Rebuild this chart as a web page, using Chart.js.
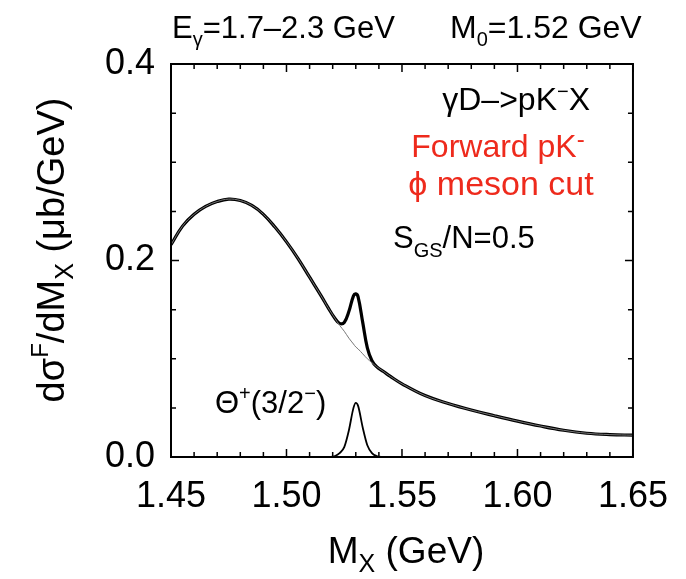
<!DOCTYPE html>
<html>
<head>
<meta charset="utf-8">
<script src="https://cdn.jsdelivr.net/npm/chart.js@4.4.0/dist/chart.umd.min.js"></script>
<style>
  html, body { margin: 0; padding: 0; background: #fff; }
  #wrap { width: 686px; height: 579px; }
</style>
</head>
<body>
<div id="wrap"><canvas id="chart" width="686" height="579"></canvas></div>
<script>
// M_X grid (GeV) for background and total curves
const massX = [1.45, 1.455, 1.46, 1.465, 1.47, 1.475, 1.48, 1.485, 1.49, 1.495, 1.50, 1.505, 1.51, 1.515,
  1.518, 1.521, 1.523, 1.525, 1.527, 1.529, 1.530, 1.531, 1.533, 1.535, 1.537, 1.539, 1.542,
  1.545, 1.55, 1.56, 1.57, 1.58, 1.59, 1.60, 1.61, 1.62, 1.63, 1.64, 1.65];
// background only (thin line)
const background = [0.216, 0.235, 0.247, 0.255, 0.260, 0.2625, 0.261, 0.256, 0.247, 0.234, 0.219, 0.202, 0.183, 0.164,
  0.152, 0.141, 0.134, 0.128, 0.121, 0.115, 0.112, 0.110, 0.105, 0.100, 0.096, 0.092, 0.087,
  0.082, 0.0745, 0.0625, 0.0545, 0.0478, 0.0420, 0.0365, 0.0315, 0.0272, 0.0242, 0.0228, 0.0222];
// background + Theta signal (thick line)
const total = [0.216, 0.235, 0.247, 0.255, 0.260, 0.2625, 0.261, 0.256, 0.247, 0.234, 0.219, 0.202, 0.183, 0.164,
  0.152, 0.141, 0.136, 0.137, 0.148, 0.164, 0.166, 0.163, 0.137, 0.111, 0.098, 0.092, 0.087,
  0.082, 0.0745, 0.0625, 0.0545, 0.0478, 0.0420, 0.0365, 0.0315, 0.0272, 0.0242, 0.0228, 0.0222];
// Theta+(3/2-) peak alone
const peakX = [1.518, 1.521, 1.523, 1.525, 1.527, 1.529, 1.530, 1.531, 1.533, 1.535, 1.537, 1.539, 1.542];
const peak = [0, 0.001, 0.004, 0.010, 0.027, 0.050, 0.055, 0.052, 0.030, 0.012, 0.004, 0.001, 0];

const xTicks = [1.45, 1.50, 1.55, 1.60, 1.65];
const yTicks = [0.0, 0.2, 0.4];

const FONT = '"Liberation Sans", Arial, Helvetica, sans-serif';
const RED = '#ee2a1c';

function pts(xs, ys) { return xs.map((x, i) => ({ x: x, y: ys[i] })); }

// draw text made of runs: [text, size, dy]
function rich(ctx, runs, x, y, align) {
  let w = 0;
  runs.forEach(r => { ctx.font = r[1] + 'px ' + FONT; w += ctx.measureText(r[0]).width; });
  if (align === 'center') x -= w / 2;
  if (align === 'right') x -= w;
  ctx.textAlign = 'left';
  ctx.textBaseline = 'alphabetic';
  runs.forEach(r => {
    ctx.font = r[1] + 'px ' + FONT;
    ctx.fillText(r[0], x, y + (r[2] || 0));
    x += ctx.measureText(r[0]).width;
  });
}

const decor = {
  id: 'decor',
  afterDatasetsDraw(chart) {
    const ctx = chart.ctx, a = chart.chartArea;
    const sx = chart.scales.x, sy = chart.scales.y;
    ctx.save();
    ctx.strokeStyle = '#000';
    ctx.lineWidth = 2;
    ctx.strokeRect(a.left, a.top, a.right - a.left, a.bottom - a.top);
    ctx.lineWidth = 1.5;
    ctx.beginPath();
    for (let i = 0; i <= 20; i++) {
      const px = sx.getPixelForValue(1.45 + i * 0.01);
      const len = i % 5 === 0 ? 8 : 5;
      ctx.moveTo(px, a.bottom); ctx.lineTo(px, a.bottom - len);
      ctx.moveTo(px, a.top); ctx.lineTo(px, a.top + len);
    }
    for (let j = 0; j <= 8; j++) {
      const py = sy.getPixelForValue(j * 0.05);
      const len = j % 4 === 0 ? 8 : 5;
      ctx.moveTo(a.left, py); ctx.lineTo(a.left + len, py);
      ctx.moveTo(a.right, py); ctx.lineTo(a.right - len, py);
    }
    ctx.stroke();

    ctx.fillStyle = '#000';
    rich(ctx, [['E', 31], ['γ', 20, 8], ['=1.7\u20132.3 GeV', 31]], 172, 38, 'left');
    rich(ctx, [['M', 32], ['0', 20, 8], ['=1.52 GeV', 32]], 450, 38, 'left');

    rich(ctx, [['γD\u2013>pK', 32], ['\u2212', 20, -12], ['X', 32]], 590, 110, 'right');
    ctx.fillStyle = RED;
    rich(ctx, [['Forward pK', 32], ['-', 24, -10]], 498, 157, 'center');
    rich(ctx, [['\u03d5 meson cut', 34]], 501, 195, 'center');
    ctx.fillStyle = '#000';
    rich(ctx, [['S', 31], ['GS', 20, 9], ['/N=0.5', 31]], 393, 248, 'left');
    rich(ctx, [['Θ', 31], ['+', 20, -13], ['(3/2', 31], ['\u2212', 20, -13], [')', 31]], 215, 413, 'left');

    rich(ctx, [['M', 37], ['X', 25, 9], [' (GeV)', 37]], 406, 563, 'center');

    ctx.translate(64, 250);
    ctx.rotate(-Math.PI / 2);
    rich(ctx, [['dσ', 38], ['F', 24, -16], ['/dM', 38], ['X', 25, 9], [' (μb/GeV)', 38]], 0, 0, 'center');
    ctx.restore();
  }
};

new Chart(document.getElementById('chart'), {
  type: 'line',
  data: {
    datasets: [
      { data: pts(massX, background), borderColor: '#777', borderWidth: 1, pointRadius: 0, tension: 0.4 },
      { data: pts(massX, total), borderColor: '#000', borderWidth: 3.2, pointRadius: 0, tension: 0.4 },
      { data: pts(peakX, peak), borderColor: '#000', borderWidth: 1.8, pointRadius: 0, cubicInterpolationMode: 'monotone', clip: false }
    ]
  },
  options: {
    responsive: false,
    animation: false,
    events: [],
    layout: { padding: { left: 0, top: 64, right: 44, bottom: 0 } },
    plugins: { legend: { display: false }, tooltip: { enabled: false } },
    scales: {
      x: {
        type: 'linear', min: 1.45, max: 1.65,
        afterBuildTicks: s => { s.ticks = xTicks.map(v => ({ value: v })); },
        afterFit: s => { s.height = 122; },
        grid: { display: false, drawTicks: false },
        border: { display: false },
        ticks: { color: '#000', padding: 18, maxRotation: 0, font: { family: FONT, size: 36 },
          callback: v => v.toFixed(2) }
      },
      y: {
        min: 0, max: 0.4,
        afterBuildTicks: s => { s.ticks = yTicks.map(v => ({ value: v })); },
        afterFit: s => { s.width = 171; },
        grid: { display: false, drawTicks: false },
        border: { display: false },
        ticks: { color: '#000', padding: 16, font: { family: FONT, size: 36 },
          callback: v => v.toFixed(1) }
      }
    }
  },
  plugins: [decor]
});
</script>
</body>
</html>
